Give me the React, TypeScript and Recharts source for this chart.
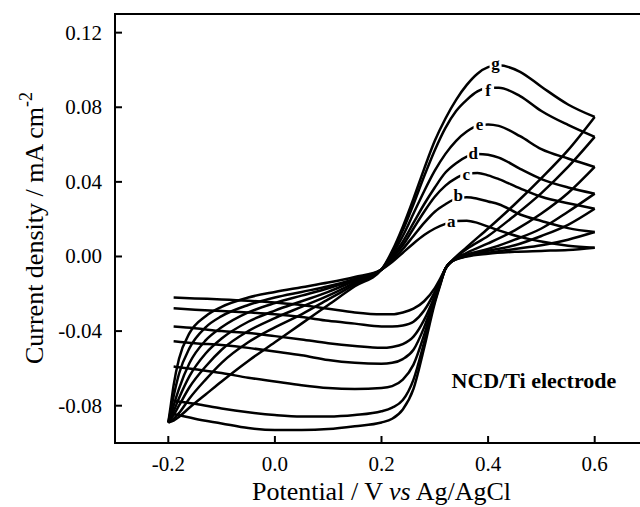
import { LineChart, Line, XAxis, YAxis, ReferenceDot, ReferenceArea } from 'recharts';

// potential grid for the anodic (forward) scans, V vs Ag/AgCl
const fwdPotential = [
  -0.2, -0.195, -0.19, -0.18, -0.16, -0.13, -0.1, -0.05, 0, 0.05, 0.1, 0.15, 0.2,
  0.22, 0.24, 0.26, 0.28, 0.3, 0.32, 0.34, 0.36, 0.38, 0.4, 0.42, 0.46, 0.5, 0.55, 0.6,
];
// potential grid for the cathodic (reverse) scans
const revPotential = [
  -0.19, -0.15, -0.1, -0.05, 0, 0.05, 0.1, 0.15, 0.2, 0.22, 0.24, 0.26, 0.28, 0.3,
  0.31, 0.32, 0.33, 0.36, 0.4, 0.45, 0.5, 0.55, 0.6,
];

// current density, mA cm-2
const fwdA = [-0.089, -0.079, -0.069, -0.055, -0.041, -0.032, -0.027, -0.022, -0.019, -0.0165, -0.014, -0.011, -0.007, -0.003, 0.002, 0.007, 0.0115, 0.015, 0.0175, 0.019, 0.0192, 0.018, 0.016, 0.014, 0.0105, 0.008, 0.0058, 0.0047];
const fwdB = [-0.089, -0.082, -0.075, -0.063, -0.049, -0.038, -0.032, -0.026, -0.022, -0.019, -0.016, -0.012, -0.007, -0.002, 0.004, 0.011, 0.018, 0.024, 0.028, 0.031, 0.0318, 0.031, 0.0295, 0.028, 0.0225, 0.019, 0.0152, 0.0131];
const fwdC = [-0.089, -0.085, -0.08, -0.071, -0.057, -0.045, -0.038, -0.03, -0.025, -0.021, -0.017, -0.0125, -0.007, -0.001, 0.006, 0.015, 0.024, 0.032, 0.038, 0.042, 0.0445, 0.0448, 0.0435, 0.0415, 0.0365, 0.032, 0.0285, 0.0256];
const fwdD = [-0.089, -0.086, -0.083, -0.076, -0.064, -0.052, -0.044, -0.035, -0.029, -0.024, -0.019, -0.013, -0.007, 0.0, 0.008, 0.018, 0.028, 0.037, 0.045, 0.05, 0.0535, 0.055, 0.0545, 0.053, 0.047, 0.0415, 0.037, 0.0337];
const fwdE = [-0.089, -0.087, -0.085, -0.08, -0.07, -0.059, -0.05, -0.04, -0.033, -0.027, -0.021, -0.014, -0.007, 0.001, 0.011, 0.023, 0.035, 0.046, 0.055, 0.062, 0.067, 0.07, 0.0708, 0.07, 0.0645, 0.0575, 0.0525, 0.048];
const fwdF = [-0.089, -0.088, -0.087, -0.084, -0.076, -0.066, -0.057, -0.046, -0.038, -0.031, -0.023, -0.015, -0.007, 0.002, 0.014, 0.028, 0.043, 0.057, 0.069, 0.078, 0.084, 0.0885, 0.0905, 0.0905, 0.086, 0.078, 0.0705, 0.0641];
const fwdG = [-0.089, -0.0885, -0.088, -0.086, -0.081, -0.074, -0.067, -0.056, -0.046, -0.036, -0.026, -0.016, -0.007, 0.003, 0.016, 0.031, 0.047, 0.062, 0.074, 0.084, 0.092, 0.098, 0.1015, 0.1025, 0.099, 0.091, 0.0815, 0.0748];

const revA = [-0.022, -0.0225, -0.023, -0.0237, -0.0247, -0.026, -0.028, -0.03, -0.031, -0.031, -0.03, -0.028, -0.024, -0.017, -0.012, -0.0065, -0.003, 0.0, 0.0015, 0.0025, 0.003, 0.0035, 0.0047];
const revB = [-0.0278, -0.0285, -0.0292, -0.03, -0.031, -0.0325, -0.0345, -0.036, -0.0375, -0.0375, -0.037, -0.035, -0.029, -0.019, -0.013, -0.0065, -0.003, 0.0002, 0.002, 0.004, 0.006, 0.009, 0.0131];
const revC = [-0.0376, -0.0385, -0.04, -0.041, -0.0427, -0.0445, -0.0465, -0.048, -0.049, -0.0485, -0.047, -0.043, -0.034, -0.021, -0.0135, -0.0065, -0.003, 0.0005, 0.003, 0.006, 0.011, 0.017, 0.0256];
const revD = [-0.0454, -0.0465, -0.0475, -0.049, -0.051, -0.053, -0.0555, -0.057, -0.0575, -0.057, -0.055, -0.05, -0.038, -0.022, -0.014, -0.0065, -0.003, 0.001, 0.004, 0.009, 0.015, 0.024, 0.0337];
const revE = [-0.059, -0.0605, -0.0625, -0.065, -0.067, -0.069, -0.0705, -0.071, -0.0705, -0.0695, -0.066, -0.058, -0.042, -0.023, -0.0145, -0.0065, -0.003, 0.002, 0.007, 0.014, 0.023, 0.034, 0.048];
const revF = [-0.0775, -0.079, -0.0815, -0.0835, -0.085, -0.0858, -0.0858, -0.085, -0.083, -0.081, -0.077, -0.066, -0.046, -0.024, -0.015, -0.0065, -0.003, 0.004, 0.011, 0.022, 0.034, 0.048, 0.0641];
const revG = [-0.0845, -0.087, -0.0895, -0.092, -0.093, -0.093, -0.0925, -0.091, -0.089, -0.087, -0.082, -0.071, -0.049, -0.025, -0.0155, -0.0065, -0.003, 0.005, 0.015, 0.028, 0.042, 0.057, 0.0748];

const curveNames = ['a', 'b', 'c', 'd', 'e', 'f', 'g'];
const fwdCurrents = [fwdA, fwdB, fwdC, fwdD, fwdE, fwdF, fwdG];
const revCurrents = [revA, revB, revC, revD, revE, revF, revG];

// where the letters sit on the anodic peaks
const labelPotential = [0.331, 0.344, 0.359, 0.372, 0.384, 0.4, 0.414];
const labelCurrent = [0.0156, 0.0295, 0.0408, 0.0521, 0.0677, 0.0859, 0.1007];

const xTicks = [-0.2, 0, 0.2, 0.4, 0.6];
const yTicks = [-0.08, -0.04, 0, 0.04, 0.08, 0.12];

const serif = '"Liberation Serif", "Times New Roman", serif';

const toPoints = (xs: number[], ys: number[]) => xs.map((x, i) => ({ x, y: ys[i] }));

function XTick(props: any) {
  const { x, y, payload } = props;
  return (
    <text x={x} y={y} dy={15} textAnchor="middle" fontFamily={serif} fontSize={21} fill="#000">
      {Number(payload.value).toFixed(1)}
    </text>
  );
}

function YTick(props: any) {
  const { x, y, payload } = props;
  return (
    <text x={x} y={y} dy={7} textAnchor="end" fontFamily={serif} fontSize={21} fill="#000">
      {Number(payload.value).toFixed(2)}
    </text>
  );
}

function CurveLetter(props: any) {
  const { cx, cy, letter } = props;
  if (cx == null || cy == null) return null;
  return (
    <g>
      <rect x={cx - 6} y={cy - 13} width={12} height={17} fill="#fff" />
      <text x={cx} y={cy} textAnchor="middle" fontFamily={serif} fontWeight="bold" fontSize={17} fill="#000">
        {letter}
      </text>
    </g>
  );
}

function NoteText(props: any) {
  const { cx, cy } = props;
  if (cx == null || cy == null) return null;
  return (
    <text x={cx} y={cy} textAnchor="middle" fontFamily={serif} fontWeight="bold" fontSize={22} fill="#000">
      NCD/Ti electrode
    </text>
  );
}

const renderXTitle = () => (
  <text x={381.5} y={500} textAnchor="middle" fontFamily={serif} fontSize={26} fill="#000">
    Potential / V <tspan fontStyle="italic">vs</tspan> Ag/AgCl
  </text>
);

const renderYTitle = () => (
  <text
    transform="translate(43, 228) rotate(-90)"
    x={0}
    y={0}
    textAnchor="middle"
    fontFamily={serif}
    fontSize={26}
    fill="#000"
  >
    Current density / mA cm
    <tspan dy={-11} fontSize={18}>-2</tspan>
  </text>
);

export default function App() {
  return (
    <div style={{ position: 'absolute', left: 0, top: 0, width: 640, height: 507, overflow: 'hidden', background: '#fff' }}>
      <LineChart width={660} height={507} margin={{ top: 14, right: 12, bottom: 0, left: 0 }}>
        <XAxis
          type="number"
          dataKey="x"
          domain={[-0.3, 0.7]}
          ticks={xTicks}
          allowDataOverflow
          height={64}
          tickSize={-7}
          tickMargin={20}
          axisLine={{ stroke: '#000', strokeWidth: 2 }}
          tickLine={{ stroke: '#000', strokeWidth: 2 }}
          tick={<XTick />}
          label={{ content: renderXTitle }}
        />
        <YAxis
          type="number"
          dataKey="y"
          domain={[-0.1, 0.13]}
          ticks={yTicks}
          allowDataOverflow
          width={115}
          tickSize={-7}
          tickMargin={20}
          axisLine={{ stroke: '#000', strokeWidth: 2 }}
          tickLine={{ stroke: '#000', strokeWidth: 2 }}
          tick={<YTick />}
          label={{ content: renderYTitle }}
        />
        <ReferenceArea x1={-0.3} x2={0.7} y1={-0.1} y2={0.13} fill="none" stroke="#000" strokeWidth={2} />
        {curveNames.map((name, i) => (
          <Line
            key={'fwd-' + name}
            data={toPoints(fwdPotential, fwdCurrents[i])}
            dataKey="y"
            type="monotone"
            stroke="#000"
            strokeWidth={2.5}
            dot={false}
            isAnimationActive={false}
          />
        ))}
        {curveNames.map((name, i) => (
          <Line
            key={'rev-' + name}
            data={toPoints(revPotential, revCurrents[i])}
            dataKey="y"
            type="monotone"
            stroke="#000"
            strokeWidth={2.5}
            dot={false}
            isAnimationActive={false}
          />
        ))}
        {curveNames.map((name, i) => (
          <ReferenceDot
            key={'lbl-' + name}
            x={labelPotential[i]}
            y={labelCurrent[i]}
            r={0}
            shape={(p: any) => <CurveLetter {...p} letter={name} />}
          />
        ))}
        <ReferenceDot x={0.486} y={-0.0705} r={0} shape={(p: any) => <NoteText {...p} />} />
      </LineChart>
    </div>
  );
}
